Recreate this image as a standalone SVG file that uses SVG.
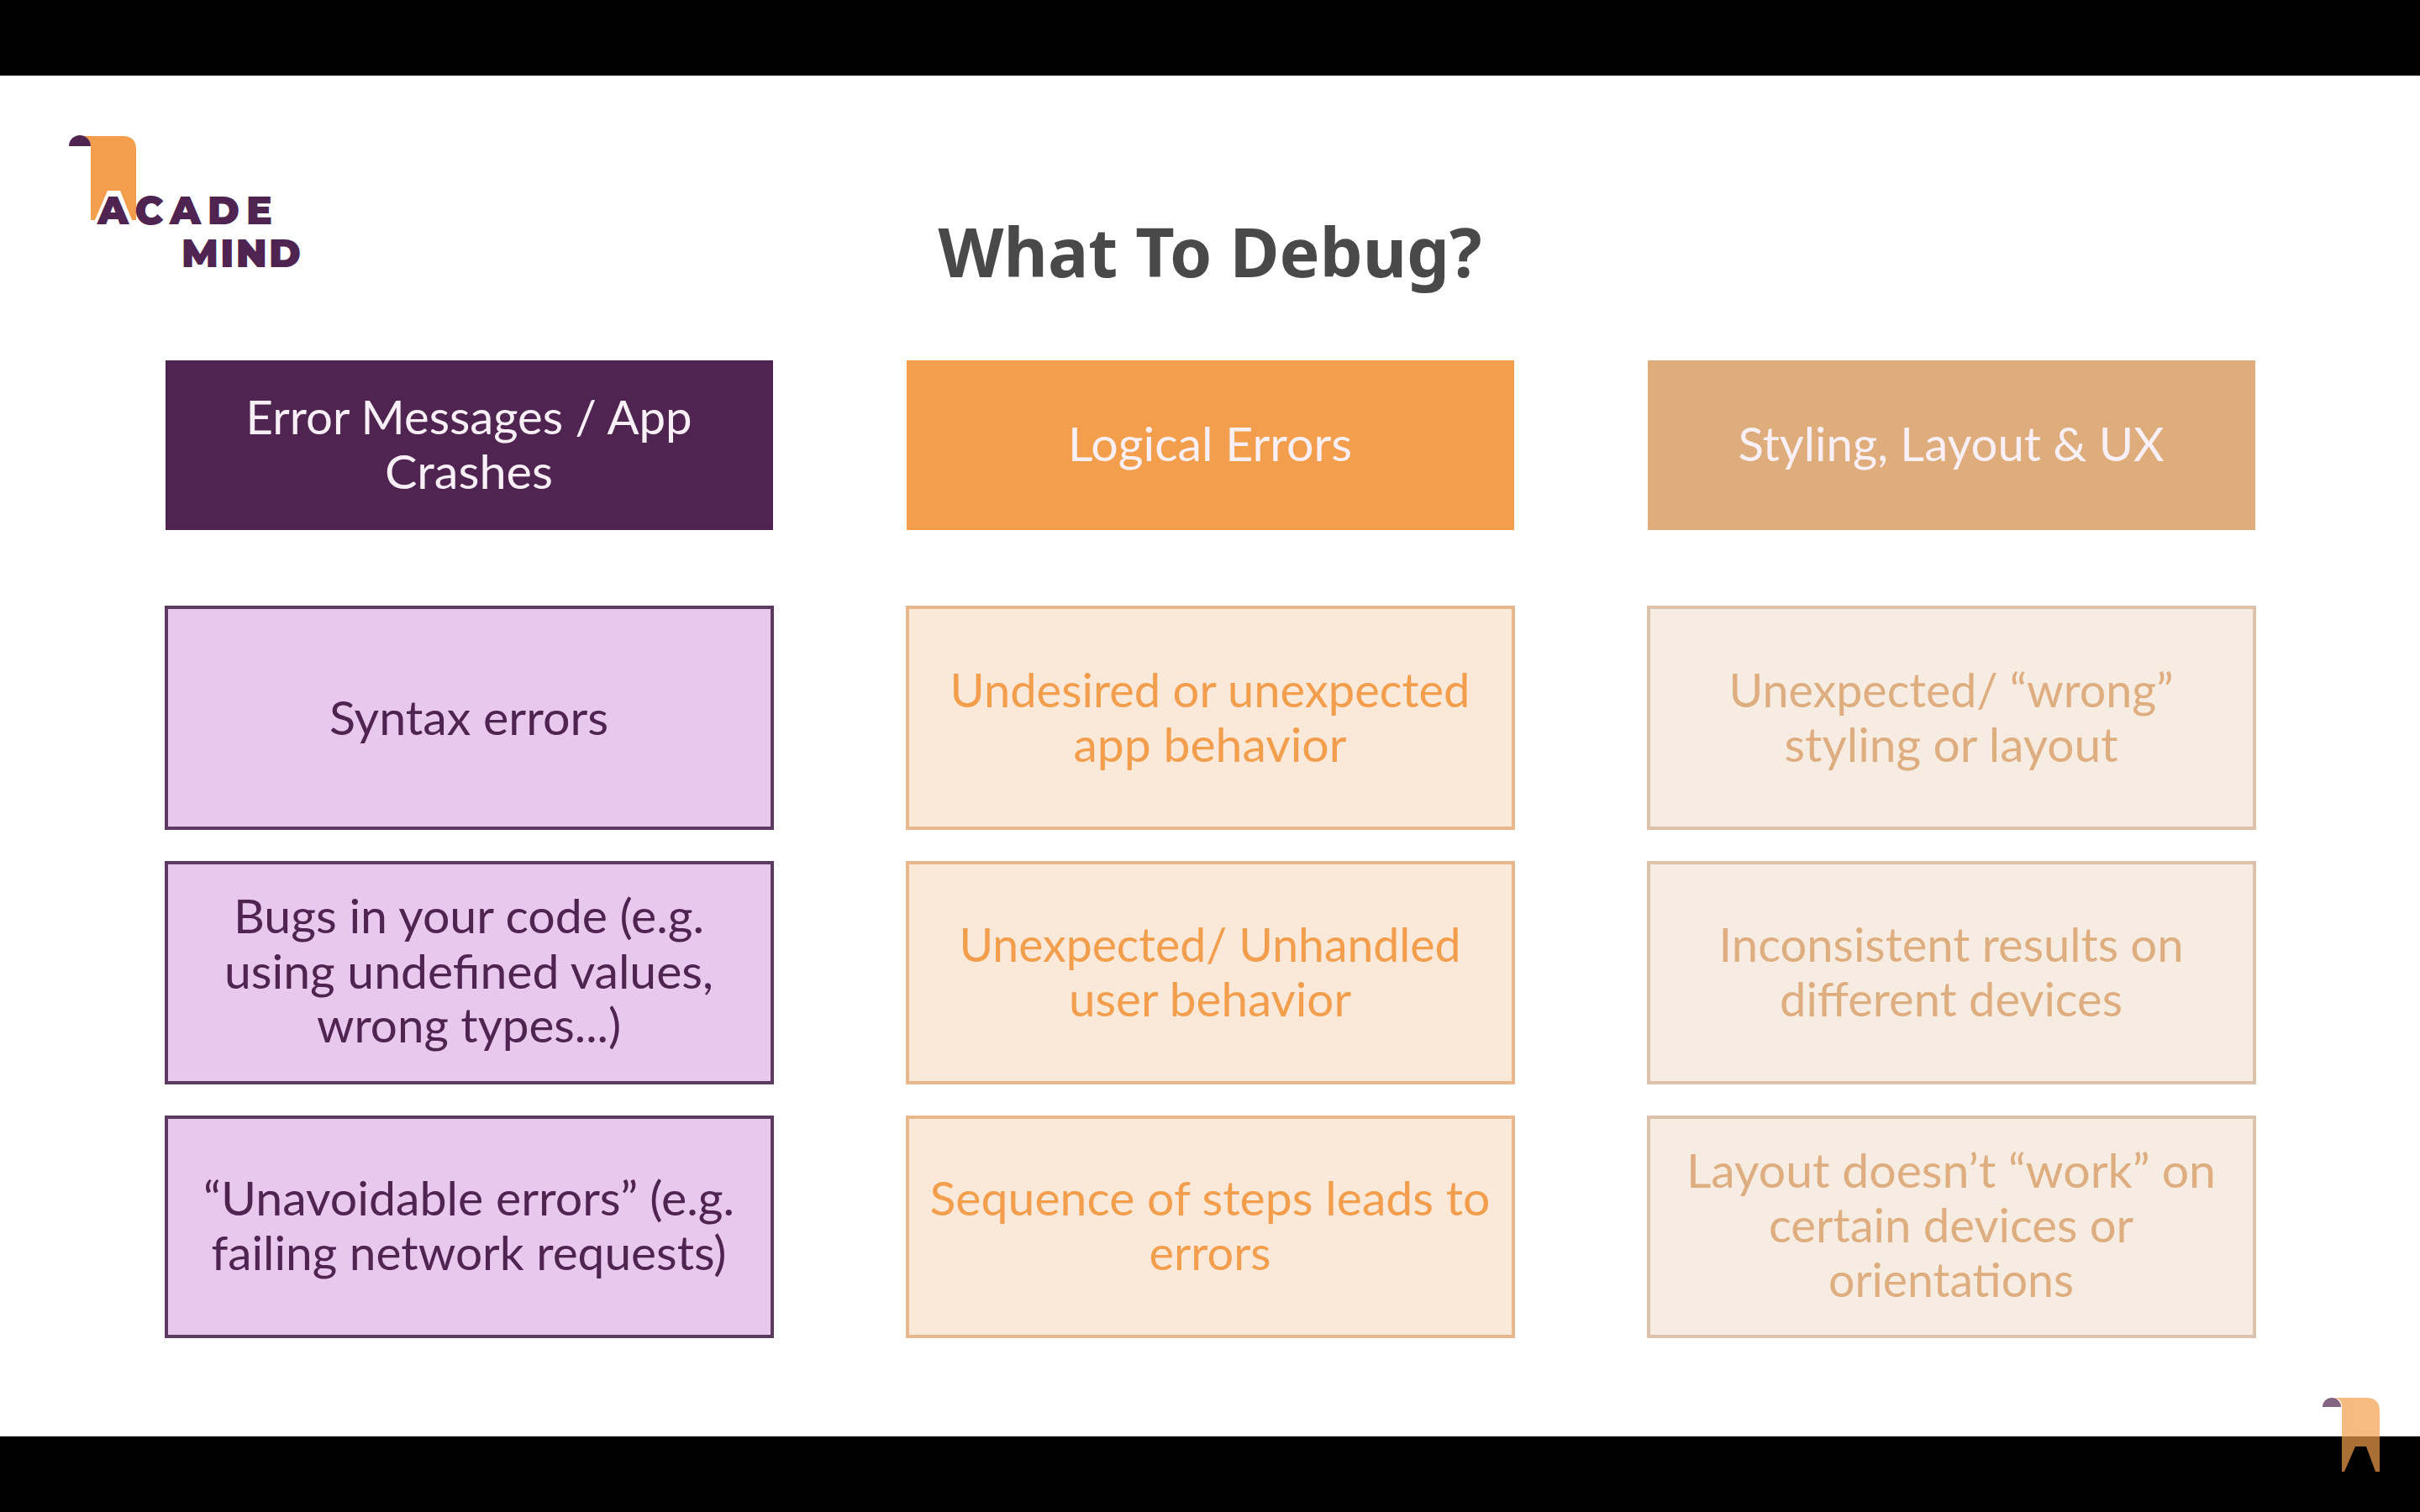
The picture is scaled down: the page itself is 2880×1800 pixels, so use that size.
<svg xmlns="http://www.w3.org/2000/svg" width="2880" height="1800" viewBox="0 0 2880 1800">
<style>
text{font-family:"Lato","Noto Sans",sans-serif;font-size:56px;text-anchor:middle}
.title{font-family:"Noto Sans",sans-serif;font-weight:700;font-size:80px;fill:#494949}
.h rect{stroke:none}.h text{fill:#f8f0f6}
.a rect{fill:#e8c8ec;stroke:#5d3a62;stroke-width:4}.a text{fill:#4f2450}
.b rect{fill:#fae8d8;stroke:#e8b88c;stroke-width:4}.b text{fill:#f29e4c}
.c rect{fill:#f7ece2;stroke:#dcc2aa;stroke-width:4}.c text{fill:#dfae80}
.lg{font-family:"Montserrat","Lato","Noto Sans",sans-serif;font-weight:900;fill:#4f2450;text-anchor:start;font-size:46px}
</style>
<rect width="2880" height="1800" fill="#fff"/>
<rect id="bar-top" width="2880" height="90" fill="#000"/>
<rect id="bar-bottom" y="1710" width="2880" height="90" fill="#000"/>
<g id="logo">
<path d="M95 162H146Q162 162 162 178V262H157L143 227H128L113 262H108V175Q108 162 95 162Z" fill="#f29e4c"/>
<path d="M82 174A13 13 0 0 1 108 174Z" fill="#4f2450"/>
<text class="lg" x="116" y="267" textLength="208" lengthAdjust="spacing">ACADE</text>
<text class="lg" x="216" y="318" textLength="142" lengthAdjust="spacing">MIND</text>
</g>
<g id="logo-small" opacity="0.7">
<path d="M2775 1664H2816Q2832 1664 2832 1680V1752H2827L2816 1722H2803L2790 1752H2787V1675Q2787 1664 2775 1664Z" fill="#f29e4c"/>
<path d="M2764 1675A11 11 0 0 1 2786 1675Z" fill="#4f2450"/>
</g>
<text id="title" class="title" x="1440" y="330" textLength="647" lengthAdjust="spacingAndGlyphs">What To Debug?</text>
<g id="h1" class="h"><rect x="197" y="429" width="723" height="202" fill="#4f2450"/><text x="558" y="517" textLength="531" lengthAdjust="spacingAndGlyphs">Error Messages / App</text><text x="558" y="582" textLength="200" lengthAdjust="spacingAndGlyphs">Crashes</text></g>
<g id="h2" class="h"><rect x="1079" y="429" width="723" height="202" fill="#f29e4c"/><text x="1440" y="549" textLength="338" lengthAdjust="spacingAndGlyphs">Logical Errors</text></g>
<g id="h3" class="h"><rect x="1961" y="429" width="723" height="202" fill="#dfac7c"/><text x="2322" y="549" textLength="507" lengthAdjust="spacingAndGlyphs">Styling, Layout &amp; UX</text></g>
<g id="a1" class="a"><rect x="198" y="723" width="721" height="263"/><text x="558" y="875" textLength="332" lengthAdjust="spacingAndGlyphs">Syntax errors</text></g>
<g id="a2" class="a"><rect x="198" y="1027" width="721" height="262"/><text x="558" y="1111" textLength="560" lengthAdjust="spacingAndGlyphs">Bugs in your code (e.g.</text><text x="558" y="1177" textLength="582" lengthAdjust="spacingAndGlyphs">using undefined values,</text><text x="558" y="1241" textLength="362" lengthAdjust="spacingAndGlyphs">wrong types...)</text></g>
<g id="a3" class="a"><rect x="198" y="1330" width="721" height="261"/><text x="558" y="1447" textLength="632" lengthAdjust="spacingAndGlyphs">“Unavoidable errors” (e.g.</text><text x="558" y="1512" textLength="613" lengthAdjust="spacingAndGlyphs">failing network requests)</text></g>
<g id="b1" class="b"><rect x="1080" y="723" width="721" height="263"/><text x="1440" y="842" textLength="619" lengthAdjust="spacingAndGlyphs">Undesired or unexpected</text><text x="1440" y="907" textLength="325" lengthAdjust="spacingAndGlyphs">app behavior</text></g>
<g id="b2" class="b"><rect x="1080" y="1027" width="721" height="262"/><text x="1440" y="1145" textLength="597" lengthAdjust="spacingAndGlyphs">Unexpected/ Unhandled</text><text x="1440" y="1210" textLength="336" lengthAdjust="spacingAndGlyphs">user behavior</text></g>
<g id="b3" class="b"><rect x="1080" y="1330" width="721" height="261"/><text x="1440" y="1447" textLength="667" lengthAdjust="spacingAndGlyphs">Sequence of steps leads to</text><text x="1440" y="1512" textLength="145" lengthAdjust="spacingAndGlyphs">errors</text></g>
<g id="c1" class="c"><rect x="1962" y="723" width="721" height="263"/><text x="2322" y="842" textLength="529" lengthAdjust="spacingAndGlyphs">Unexpected/ “wrong”</text><text x="2322" y="907" textLength="397" lengthAdjust="spacingAndGlyphs">styling or layout</text></g>
<g id="c2" class="c"><rect x="1962" y="1027" width="721" height="262"/><text x="2322" y="1145" textLength="553" lengthAdjust="spacingAndGlyphs">Inconsistent results on</text><text x="2322" y="1210" textLength="408" lengthAdjust="spacingAndGlyphs">different devices</text></g>
<g id="c3" class="c"><rect x="1962" y="1330" width="721" height="261"/><text x="2322" y="1414" textLength="630" lengthAdjust="spacingAndGlyphs">Layout doesn’t “work” on</text><text x="2322" y="1479" textLength="434" lengthAdjust="spacingAndGlyphs">certain devices or</text><text x="2322" y="1544" textLength="292" lengthAdjust="spacingAndGlyphs">orientations</text></g>
<g id="connectors"/>
</svg>
